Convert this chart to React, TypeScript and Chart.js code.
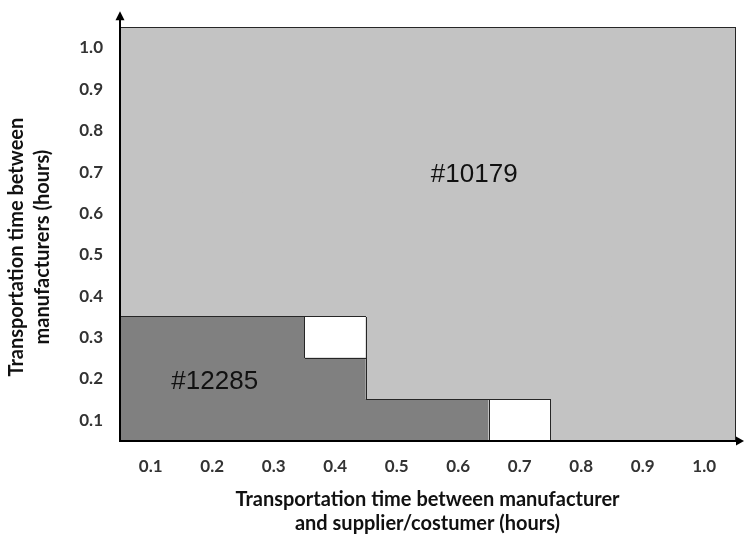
import React, { useEffect, useRef } from 'react';
import { Chart, registerables } from 'chart.js';

Chart.register(...registerables);

// ---- data ----
const xCategories = ['0.1', '0.2', '0.3', '0.4', '0.5', '0.6', '0.7', '0.8', '0.9', '1.0'];
const yTickValues = [0.1, 0.2, 0.3, 0.4, 0.5, 0.6, 0.7, 0.8, 0.9, 1.0];
// per column: number of rows (from bottom) belonging to region #12285
const darkRows = [3, 3, 3, 2, 1, 1, 0, 0, 0, 0];
// per column: row (1-based from bottom) of an unassigned (white) cell, 0 = none
const whiteRow = [0, 0, 0, 3, 0, 0, 1, 0, 0, 0];
const regionNames = ['#10179', '#12285'];
const regionLabelX = [0.626, 0.204];
const regionLabelY = [0.694, 0.194];

const xTitle = ['Transportation time between manufacturer', 'and supplier/costumer (hours)'];
const yTitle = ['Transportation time between', 'manufacturers (hours)'];

const LIGHT = '#c3c3c3';
const DARK = '#808080';
const WHITE = '#ffffff';
const LINE = '#262626';

function cellType(col: number, row: number): string {
  if (col < 0 || col >= xCategories.length || row < 1 || row > yTickValues.length) return 'X';
  if (whiteRow[col] === row) return 'W';
  if (row <= darkRows[col]) return 'D';
  return 'L';
}

const TICK_FONT = { family: 'Lato', size: 17, weight: 'bold' as const };
const TITLE_FONT = { family: 'Lato', size: 20, weight: 'bold' as const, lineHeight: '24px' };

const decorPlugin = {
  id: 'decor',
  afterDatasetsDraw(chart: any) {
    const { ctx, chartArea, scales } = chart;
    const x = scales.x;
    const y = scales.y;
    const nC = xCategories.length;
    const nR = yTickValues.length;
    const colRight = (c: number) =>
      c >= nC - 1 ? chartArea.right : (x.getPixelForValue(c) + x.getPixelForValue(c + 1)) / 2;
    const colLeft = (c: number) => (c <= 0 ? chartArea.left : colRight(c - 1));
    const rowTop = (r: number) => y.getPixelForValue(yTickValues[r - 1] + 0.05);
    const rowBottom = (r: number) => y.getPixelForValue(yTickValues[r - 1] - 0.05);
    const crisp = (v: number) => Math.round(v - 0.5) + 0.5;
    ctx.save();
    ctx.strokeStyle = LINE;
    ctx.lineWidth = 1;
    ctx.beginPath();
    for (let c = 0; c < nC; c++) {
      for (let r = 1; r <= nR; r++) {
        const t = cellType(c, r);
        if (t !== cellType(c + 1, r)) {
          const px = crisp(colRight(c));
          ctx.moveTo(px, Math.round(rowTop(r)));
          ctx.lineTo(px, Math.round(rowBottom(r)));
        }
        if (t !== cellType(c, r + 1)) {
          const py = crisp(rowTop(r));
          ctx.moveTo(Math.round(colLeft(c)), py);
          ctx.lineTo(Math.round(colRight(c)), py);
        }
      }
    }
    ctx.stroke();
    ctx.restore();
  },
  afterDraw(chart: any) {
    const { ctx, chartArea, scales } = chart;
    const x = scales.x;
    const y = scales.y;
    ctx.save();
    ctx.fillStyle = '#000';
    ctx.strokeStyle = '#000';
    // y-axis extension + arrow
    ctx.lineWidth = 2;
    ctx.beginPath();
    ctx.moveTo(chartArea.left, chartArea.top);
    ctx.lineTo(chartArea.left, chartArea.top - 10);
    ctx.stroke();
    ctx.beginPath();
    ctx.moveTo(chartArea.left, chartArea.top - 16);
    ctx.lineTo(chartArea.left - 4.5, chartArea.top - 7);
    ctx.lineTo(chartArea.left + 4.5, chartArea.top - 7);
    ctx.closePath();
    ctx.fill();
    // x-axis extension + arrow
    ctx.beginPath();
    ctx.moveTo(chartArea.right, chartArea.bottom);
    ctx.lineTo(chartArea.right + 2, chartArea.bottom);
    ctx.stroke();
    ctx.beginPath();
    ctx.moveTo(chartArea.right + 9, chartArea.bottom);
    ctx.lineTo(chartArea.right + 1, chartArea.bottom - 4.5);
    ctx.lineTo(chartArea.right + 1, chartArea.bottom + 4.5);
    ctx.closePath();
    ctx.fill();
    // region labels
    ctx.font = '26px "Liberation Sans", Arial, sans-serif';
    ctx.fillStyle = '#111';
    ctx.textAlign = 'center';
    ctx.textBaseline = 'middle';
    regionNames.forEach((name, i) => {
      const px = x.getPixelForValue((regionLabelX[i] - 0.1) / 0.1);
      const py = y.getPixelForValue(regionLabelY[i]);
      ctx.fillText(name, px, py);
    });
    // y-axis title (two lines, rotated)
    ctx.font = 'bold 20px Lato';
    ctx.fillStyle = '#111';
    const cy = (chartArea.top + chartArea.bottom) / 2 + 13;
    yTitle.forEach((line, i) => {
      ctx.save();
      ctx.translate(17 + i * 26, cy);
      ctx.rotate(-Math.PI / 2);
      ctx.fillText(line, 0, 0);
      ctx.restore();
    });
    ctx.restore();
  },
};

export default function App() {
  const ref = useRef<HTMLCanvasElement | null>(null);

  useEffect(() => {
    document.body.style.margin = '0';
    const canvas = ref.current;
    if (!canvas) return;
    const datasets = yTickValues.map((rowVal, ri) => {
      const row = ri + 1;
      return {
        label: 'row ' + rowVal,
        data: xCategories.map(() => [rowVal - 0.05, rowVal + 0.05]),
        backgroundColor: (c: any) => {
          const t = cellType(c.dataIndex, row);
          return t === 'W' ? WHITE : t === 'D' ? DARK : LIGHT;
        },
        borderWidth: 0,
        grouped: false,
        categoryPercentage: 1,
        barPercentage: 1,
        inflateAmount: 0.5,
      };
    });

    const chart = new Chart(canvas, {
      type: 'bar',
      data: { labels: xCategories, datasets: datasets as any },
      options: {
        animation: false,
        responsive: false,
        devicePixelRatio: 1,
        layout: { padding: { top: 23, right: 9, left: 0, bottom: 0 } },
        plugins: { legend: { display: false }, tooltip: { enabled: false } },
        scales: {
          x: {
            type: 'category',
            grid: { display: false, drawTicks: false },
            border: { display: true, color: '#000', width: 2, z: 1 },
            ticks: { color: '#333', font: TICK_FONT, padding: 15, maxRotation: 0 },
            title: {
              display: true,
              text: xTitle,
              color: '#111',
              font: TITLE_FONT,
              padding: { top: 0, bottom: 6 },
            },
            afterFit: (s: any) => {
              s.height = 101;
            },
          },
          y: {
            type: 'linear',
            min: 0.05,
            max: 1.05,
            grid: { display: false, drawTicks: false },
            border: { display: true, color: '#000', width: 2, z: 1 },
            ticks: {
              color: '#333',
              font: TICK_FONT,
              padding: 17,
              callback: (v: any) => Number(v).toFixed(1),
            },
            afterBuildTicks: (s: any) => {
              s.ticks = yTickValues.map((v) => ({ value: v }));
            },
            title: { display: false },
            afterFit: (s: any) => {
              s.width = 120;
            },
          },
        },
      },
      plugins: [decorPlugin],
    });
    return () => chart.destroy();
  }, []);

  return (
    <div style={{ position: 'absolute', left: 0, top: 0, width: 744, height: 542, background: '#fff' }}>
      <canvas ref={ref} width={744} height={542} />
    </div>
  );
}
